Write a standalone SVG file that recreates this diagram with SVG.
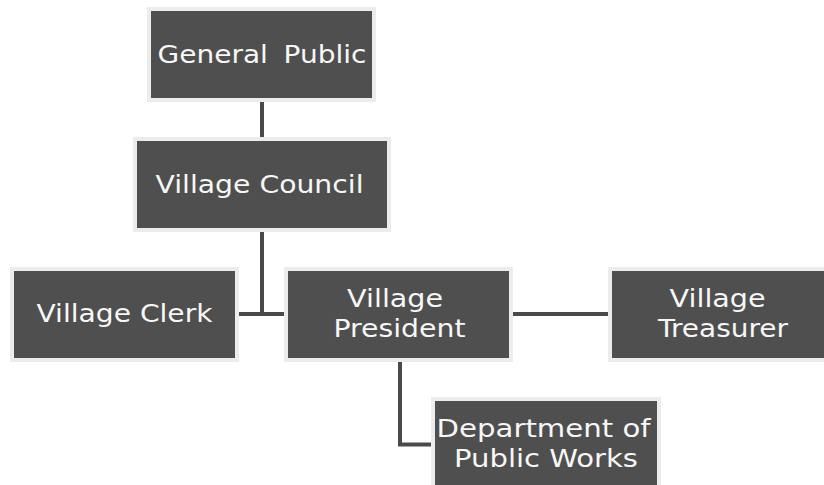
<svg xmlns="http://www.w3.org/2000/svg" width="824" height="485" viewBox="0 0 824 485">
  <style>
    .box rect { fill: #4f4f4f; stroke: #ececec; stroke-width: 4; }
    .box text { fill: #f7f7f7; font-family: "DejaVu Sans", "Open Sans", "Liberation Sans", sans-serif; font-size: 24.5px; text-anchor: middle; }
    #connectors path { fill: none; stroke: #4a4a4a; stroke-width: 4; stroke-linejoin: miter; stroke-linecap: butt; }
  </style>
  <rect width="824" height="485" fill="#ffffff"/>

  <g id="connectors">
    <path d="M262 102 V137"/>
    <path d="M262 232 V314"/>
    <path d="M239 314 H284"/>
    <path d="M513 314 H608"/>
    <path d="M400 362 V444.5 H431"/>
  </g>

  <g id="general-public" class="box">
    <rect x="149" y="9" width="225" height="91"/>
    <text x="262" y="63" textLength="209" lengthAdjust="spacingAndGlyphs" word-spacing="6">General Public</text>
  </g>

  <g id="village-council" class="box">
    <rect x="135" y="139" width="254" height="91"/>
    <text x="259.5" y="193" textLength="208" lengthAdjust="spacingAndGlyphs">Village Council</text>
  </g>

  <g id="village-clerk" class="box">
    <rect x="12" y="269" width="225" height="91"/>
    <text x="124.5" y="321.5" textLength="176" lengthAdjust="spacingAndGlyphs">Village Clerk</text>
  </g>

  <g id="village-president" class="box">
    <rect x="286" y="269" width="225" height="91"/>
    <text>
      <tspan x="399" y="307" textLength="96" lengthAdjust="spacingAndGlyphs">Village</tspan>
      <tspan x="399.5" y="337" textLength="132" lengthAdjust="spacingAndGlyphs">President</tspan>
    </text>
  </g>

  <g id="village-treasurer" class="box">
    <rect x="610" y="269" width="230" height="91"/>
    <text>
      <tspan x="721.5" y="307" textLength="96" lengthAdjust="spacingAndGlyphs">Village</tspan>
      <tspan x="723" y="337" textLength="130" lengthAdjust="spacingAndGlyphs">Treasurer</tspan>
    </text>
  </g>

  <g id="public-works" class="box">
    <rect x="433" y="399" width="226" height="91"/>
    <text>
      <tspan x="547.5" y="437" textLength="214" lengthAdjust="spacingAndGlyphs">Department of</tspan>
      <tspan x="546" y="467" textLength="184" lengthAdjust="spacingAndGlyphs">Public Works</tspan>
    </text>
  </g>
</svg>
